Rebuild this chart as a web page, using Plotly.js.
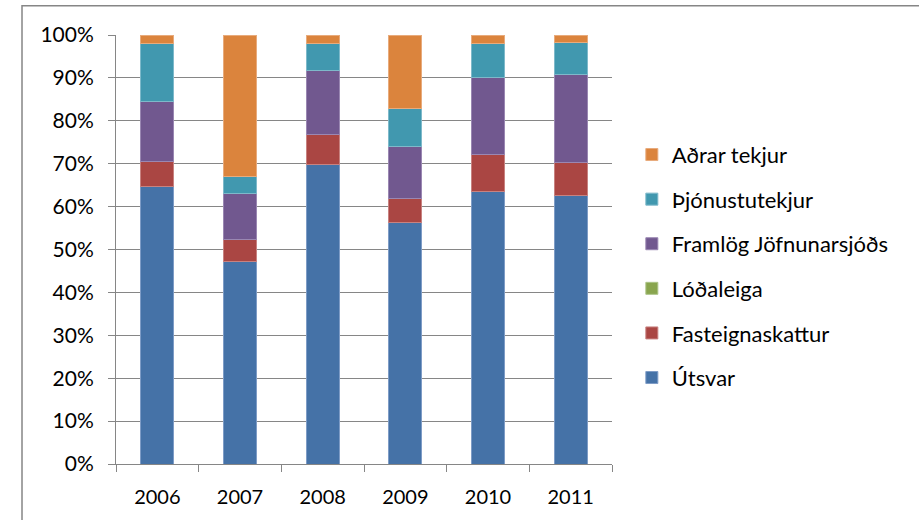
<!DOCTYPE html>
<html>
<head>
<meta charset="utf-8">
<script src="https://cdn.plot.ly/plotly-3.0.1.min.js"></script>
<style>html,body{margin:0;padding:0;background:#fff;}#chart{width:919px;height:520px;}</style>
</head>
<body>
<div id="chart"></div>
<script>
const years = ['2006', '2007', '2008', '2009', '2010', '2011'];
const seriesNames = ['Útsvar', 'Fasteignaskattur', 'Lóðaleiga', 'Framlög Jöfnunarsjóðs', 'Þjónustutekjur', 'Aðrar tekjur'];
const utsvar = [64.7, 47.2, 69.9, 56.3, 63.6, 62.6];
const fasteignaskattur = [5.9, 5.2, 6.9, 5.6, 8.6, 7.6];
const lodaleiga = [0, 0, 0, 0, 0, 0];
const framlog = [13.9, 10.7, 14.9, 12.2, 17.9, 20.5];
const thjonustutekjur = [13.6, 3.9, 6.4, 8.8, 8.0, 7.5];
const adrarTekjur = [1.9, 33.0, 1.9, 17.1, 1.9, 1.8];
const yTicks = [0, 10, 20, 30, 40, 50, 60, 70, 80, 90, 100];

const seriesValues = [utsvar, fasteignaskattur, lodaleiga, framlog, thjonustutekjur, adrarTekjur];
const colors = ['#4572A7', '#AA4643', '#89A54E', '#71588F', '#4198AF', '#DB843D'];
const lineColors = ['#7E9CC6', '#C88280', '#ADC488', '#9A87B2', '#7EB9CA', '#E8AB7C'];

const traces = seriesNames.map((name, i) => ({
  type: 'bar',
  name: name,
  x: years,
  y: seriesValues[i],
  legendgroup: 'g' + i,
  legendrank: 1000 - i,
  marker: { color: colors[i], line: { color: lineColors[i], width: 1 } },
  hoverinfo: 'name+y'
}));

const font = 'Lato, "Noto Sans", sans-serif';
const layout = {
  width: 919,
  height: 520,
  margin: { l: 116, r: 307, t: 35, b: 56, pad: 0 },
  paper_bgcolor: '#ffffff',
  plot_bgcolor: '#ffffff',
  barmode: 'stack',
  bargap: 0.6,
  font: { family: font, size: 20, color: '#000000' },
  xaxis: {
    type: 'category',
    tickson: 'boundaries',
    ticks: 'outside',
    ticklen: 7,
    tickcolor: '#868686',
    tickwidth: 1,
    ticklabelstandoff: 15,
    showline: true,
    linecolor: '#868686',
    linewidth: 1,
    showgrid: false,
    tickfont: { family: font, size: 20, color: '#000' },
    fixedrange: true
  },
  yaxis: {
    range: [0, 100],
    tickvals: yTicks,
    ticktext: yTicks.map(v => v + '%'),
    ticks: 'outside',
    ticklen: 7,
    tickcolor: '#868686',
    tickwidth: 1,
    ticklabelstandoff: 10,
    showline: true,
    linecolor: '#868686',
    linewidth: 1,
    showgrid: true,
    gridcolor: '#868686',
    gridwidth: 1,
    zeroline: false,
    tickfont: { family: font, size: 21, color: '#000' },
    fixedrange: true
  },
  legend: {
    x: 1.04,
    xanchor: 'left',
    y: 0.461,
    yanchor: 'middle',
    traceorder: 'grouped',
    tracegroupgap: 13,
    font: { family: font, size: 22, color: '#000' },
    bgcolor: 'rgba(0,0,0,0)'
  },
  shapes: [{
    type: 'rect',
    xref: 'paper', yref: 'paper',
    x0: -0.1895, x1: 1.9,
    y0: -0.3, y1: 1.068,
    line: { color: '#868686', width: 1.5 },
    fillcolor: 'rgba(0,0,0,0)',
    layer: 'below'
  }],
  showlegend: true
};

Plotly.newPlot('chart', traces, layout, { displayModeBar: false, staticPlot: true });
</script>
</body>
</html>
